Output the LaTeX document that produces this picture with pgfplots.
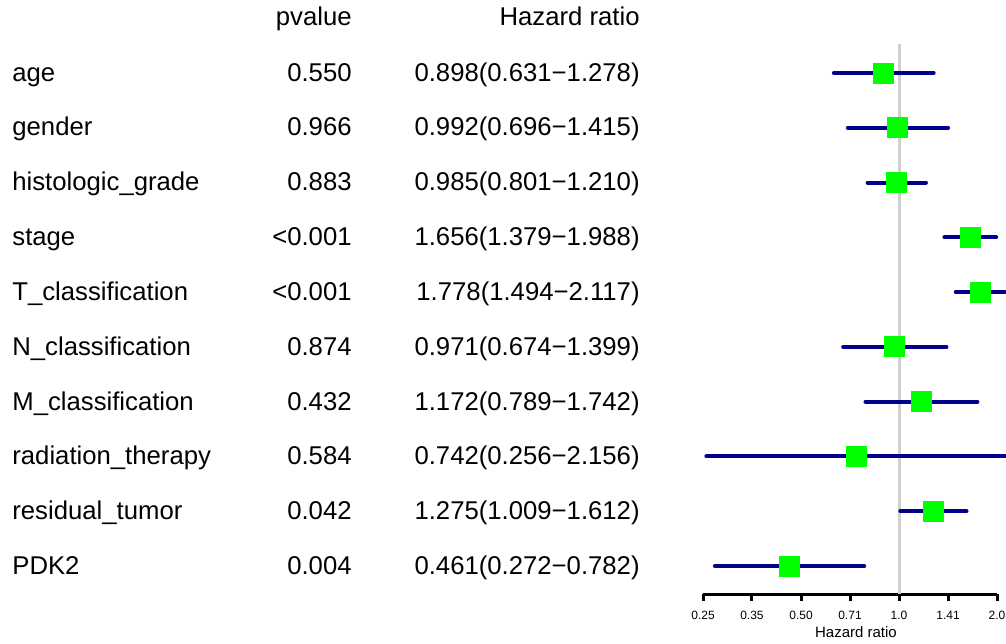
\documentclass[border=0pt]{standalone}
\usepackage{pgfplots}
\pgfplotsset{compat=1.18}
\usepackage{pgfplotstable}
\usepackage{fontspec}
\setmainfont{Liberation Sans}
\definecolor{ciblue}{HTML}{00008B}
\definecolor{boxgreen}{HTML}{00FF00}
\definecolor{refgray}{HTML}{CFCFCF}

% y = 11 - row, so age is at the top
\pgfplotstableread{
y  hr
10 0.898
9  0.992
8  0.985
7  1.656
6  1.778
5  0.971
4  1.172
3  0.742
2  1.275
1  0.461
}\hrdata

\begin{document}
\begin{tikzpicture}[x=1pt,y=1pt,
  txt/.style={font=\fontsize{12.85}{15}\selectfont,inner sep=0pt,text height=0.72em,text depth=0pt}]
\useasboundingbox (0,0) rectangle (503,321.5);
\begin{axis}[
  at={(351.5pt,24.5pt)}, anchor=south west,
  scale only axis, width=147pt, height=275pt,
  xmode=log, log basis x=2,
  xmin=0.25, xmax=2,
  ymin=0.489, ymax=10.529,
  axis x line*=bottom, axis y line=none,
  axis line style={-, line width=1.5pt, black},
  xtick={0.25,0.353553,0.5,0.707107,1,1.414214,2},
  xticklabels={0.25,0.35,0.50,0.71,1.0,1.41,2.0},
  minor xtick={},
  xtick style={line width=1.5pt, black},
  major tick length=3.5pt, tick align=outside,
  xticklabel style={font=\fontsize{6}{7}\selectfont, yshift=-1.5pt},
  clip=false,
]
\addplot[refgray, line width=1.5pt] coordinates {(1,0.489) (1,10.529)};
% confidence intervals
\addplot[ciblue, line width=2pt, line cap=round] coordinates {(0.631,10) (1.278,10)};
\addplot[ciblue, line width=2pt, line cap=round] coordinates {(0.696,9) (1.415,9)};
\addplot[ciblue, line width=2pt, line cap=round] coordinates {(0.801,8) (1.210,8)};
\addplot[ciblue, line width=2pt, line cap=round] coordinates {(1.379,7) (1.988,7)};
\addplot[ciblue, line width=2pt, line cap=round] coordinates {(1.494,6) (2.117,6)};
\addplot[ciblue, line width=2pt, line cap=round] coordinates {(0.674,5) (1.399,5)};
\addplot[ciblue, line width=2pt, line cap=round] coordinates {(0.789,4) (1.742,4)};
\addplot[ciblue, line width=2pt, line cap=round] coordinates {(0.256,3) (2.156,3)};
\addplot[ciblue, line width=2pt, line cap=round] coordinates {(1.009,2) (1.612,2)};
\addplot[ciblue, line width=2pt, line cap=round] coordinates {(0.272,1) (0.782,1)};
% hazard ratios
\addplot[only marks, mark=square*, mark size=5pt, draw=boxgreen, fill=boxgreen] table[x=hr,y=y] {\hrdata};
\end{axis}
\node[txt, anchor=east] at (176,312.5) {pvalue};
\node[txt, anchor=east] at (320,312.5) {Hazard ratio};
\foreach \r/\n/\p/\h in {
  1/age/0.550/{0.898(0.631−1.278)},
  2/gender/0.966/{0.992(0.696−1.415)},
  3/histologic\_grade/0.883/{0.985(0.801−1.210)},
  4/stage/<0.001/{1.656(1.379−1.988)},
  5/T\_classification/<0.001/{1.778(1.494−2.117)},
  6/N\_classification/0.874/{0.971(0.674−1.399)},
  7/M\_classification/0.432/{1.172(0.789−1.742)},
  8/radiation\_therapy/0.584/{0.742(0.256−2.156)},
  9/residual\_tumor/0.042/{1.275(1.009−1.612)},
  10/PDK2/0.004/{0.461(0.272−0.782)}} {
  \node[txt, anchor=west] at (6,{284.5-(\r-1)*27.4}) {\n};
  \node[txt, anchor=east] at (176,{284.5-(\r-1)*27.4}) {\p};
  \node[txt, anchor=east] at (320,{284.5-(\r-1)*27.4}) {\h};
}
\node[font=\fontsize{7.5}{9}\selectfont] at (428,5.5) {Hazard ratio};
\end{tikzpicture}
\end{document}
